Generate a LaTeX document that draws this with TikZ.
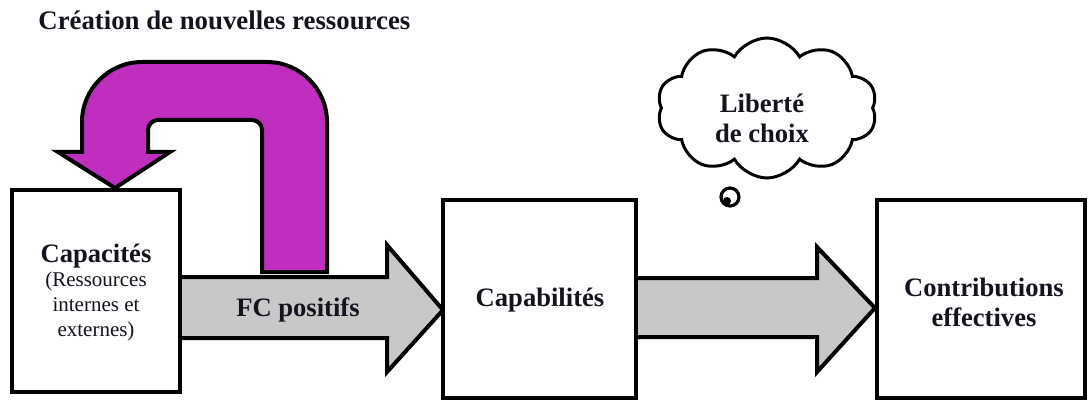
\documentclass[tikz,border=0pt]{standalone}
\usepackage{fontspec}
\setmainfont{Liberation Serif}
\usetikzlibrary{shapes.symbols}
\definecolor{purp}{RGB}{192,46,192}
\definecolor{grayfill}{RGB}{200,200,200}
\definecolor{txt}{RGB}{20,20,30}
\begin{document}
\begin{tikzpicture}[x=0.5pt,y=-0.5pt,
  box/.style={draw,line width=2.2pt,fill=white,inner sep=0pt},
  lbl/.style={text=txt,font=\bfseries\fontsize{13.3}{15}\selectfont,align=center,inner sep=0pt},
  small/.style={text=txt,font=\rmfamily\fontsize{10.5}{12.5}\selectfont,align=center,inner sep=0pt},
  blockarrow/.style={draw,line width=2pt,fill=grayfill,line join=miter},
  bentarrow/.style={draw,line width=2pt,fill=purp,line join=miter}]
\useasboundingbox (0,0) rectangle (1088,401);

% title
\node[lbl,anchor=west,font=\bfseries\fontsize{13.4}{15}\selectfont] (title) at (38,20) {Création de nouvelles ressources};

% gray block arrows
\draw[blockarrow] (180,277) -- (387,277) -- (387,245) -- (443,310) -- (387,372) -- (387,338) -- (180,338);
\draw[blockarrow] (636,278) -- (817,278) -- (817,247) -- (875,308) -- (817,372) -- (817,337) -- (636,337);

% purple bent arrow
\draw[bentarrow] (327,272) -- (327,122) .. controls (327,89) and (300,62) .. (267,62)
  -- (142,62) .. controls (109,62) and (82,89) .. (82,122)
  -- (82,152) -- (58,152) -- (115,188) -- (170,152) -- (148,152)
  -- (148,130) .. controls (148,124.5) and (152.5,120) .. (158,120)
  -- (252,120) .. controls (257.5,120) and (262,124.5) .. (262,130)
  -- (262,272) -- cycle;

% boxes
\node[box,minimum width=84pt,minimum height=101pt] (cap) at (96,291) {};
\node[box,minimum width=96.5pt,minimum height=99pt] (capab) at (539.5,299) {};
\node[box,minimum width=104pt,minimum height=99pt] (contrib) at (981,299) {};

% texts
\node[lbl] (captitle) at (96,256) {Capacités};
\node[small,anchor=north] (capsub) at (96,272) {(Ressources\\internes et\\externes)};
\node[lbl] (capabtxt) at (540,300) {Capabilités};
\node[lbl] (contribtxt) at (984,302) {Contributions\\effectives};
\node[lbl] (fc) at (298,310) {FC positifs};

% thought cloud
\node[cloud,draw,line width=1.5pt,cloud puffs=10,cloud puff arc=120,aspect=1.6,
      minimum width=110pt,minimum height=70pt,inner sep=0pt,fill=white] (cloud) at (767,108) {};
\node[lbl] (libtxt) at (762,118) {Liberté\\de choix};
\node[circle,draw,line width=1.6pt,minimum size=9pt,inner sep=0pt] (bub1) at (730,197) {};
\node[circle,fill,minimum size=4pt,inner sep=0pt] (bub2) at (727,201) {};
\end{tikzpicture}
\end{document}
